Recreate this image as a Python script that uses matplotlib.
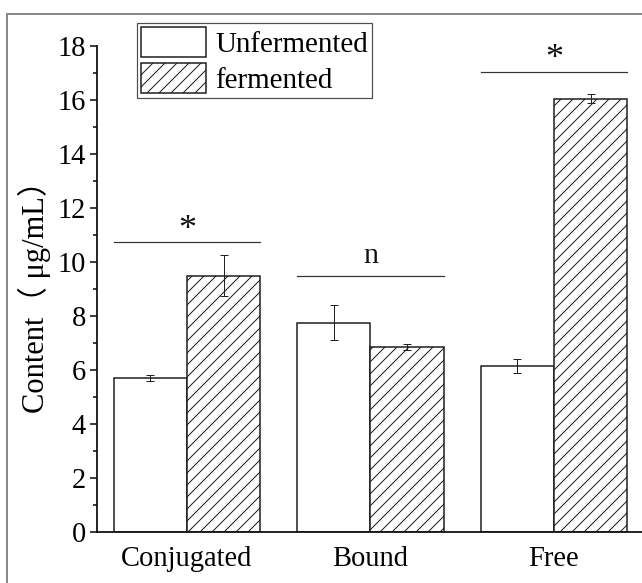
import numpy as np
import matplotlib
matplotlib.use("Agg")
import matplotlib.pyplot as plt
from matplotlib.lines import Line2D
from matplotlib.patches import Patch

plt.rcParams['font.family'] = ['Liberation Serif', 'Noto Sans CJK SC', 'DejaVu Sans']
plt.rcParams['hatch.linewidth'] = 1.0

categories = ['Conjugated', 'Bound', 'Free']
series_names = ['Unfermented', 'fermented']
unfermented = [5.70, 7.75, 6.15]
unfermented_err = [0.12, 0.65, 0.25]
fermented = [9.50, 6.85, 16.05]
fermented_err = [0.75, 0.12, 0.16]
sig_labels = ['*', 'n', '*']
sig_levels = [10.75, 9.5, 17.05]
y_ticks = [0, 2, 4, 6, 8, 10, 12, 14, 16, 18]

W, H, DPI = 642, 583, 72
fig = plt.figure(figsize=(W / DPI, H / DPI), dpi=DPI)
ax = fig.add_axes([97 / W, 51 / H, (W - 97) / W, 486 / H])

x = np.arange(1, len(categories) + 1)
bw = 0.4
edge = '#1a1a1a'
err_style = dict(ecolor='#222222', elinewidth=1.0, capsize=4, capthick=1.0)
ax.bar(x - bw / 2, unfermented, bw, color='white', edgecolor=edge, linewidth=1.5,
       yerr=unfermented_err, error_kw=err_style, zorder=2)
ax.bar(x + bw / 2, fermented, bw, color='white', edgecolor=edge, linewidth=1.5, hatch='//',
       yerr=fermented_err, error_kw=err_style, zorder=2)

# significance marks above each group
for xi, lab, lev in zip(x, sig_labels, sig_levels):
    ax.plot([xi - bw, xi + bw], [lev, lev], color='#333333', lw=1.2, zorder=3)
    if lab == '*':
        ax.text(xi, lev + 0.12, lab, ha='center', va='baseline', fontsize=36, color='#111111')
    else:
        ax.text(xi, lev + 0.48, lab, ha='center', va='baseline', fontsize=30, color='#111111')

ax.set_xlim(0.5095, 3.48)
ax.set_ylim(0, 18)
ax.set_yticks(y_ticks)
ax.set_yticks(np.arange(1, 18, 2), minor=True)
ax.set_xticks(x)
ax.set_xticklabels(categories, fontsize=28.5)
ax.tick_params(axis='y', which='major', direction='out', length=7, width=1.5, labelsize=28.5, pad=4)
ax.tick_params(axis='y', which='minor', direction='out', length=4, width=1.5)
ax.tick_params(axis='x', length=0, pad=14)
for s in ['top', 'right']:
    ax.spines[s].set_visible(False)
for s in ['left', 'bottom']:
    ax.spines[s].set_linewidth(1.8)
    ax.spines[s].set_color('#111111')

ax.set_ylabel('Content（ μg/mL）', fontsize=30.5, labelpad=6)

handles = [Patch(facecolor='white', edgecolor=edge, linewidth=1.5),
           Patch(facecolor='white', edgecolor=edge, linewidth=1.5, hatch='//')]
leg = fig.legend(handles, series_names, loc='upper left',
                 bbox_to_anchor=(137 / W, 1 - 23 / H), bbox_transform=fig.transFigure,
                 fontsize=29, frameon=True, fancybox=False, borderaxespad=0,
                 handlelength=2.24, handleheight=1.2, handletextpad=0.3,
                 labelspacing=0.17, borderpad=0.15)
leg.get_frame().set_edgecolor('#222222')
leg.get_frame().set_linewidth(1.2)

# outer frame around the figure
fig.add_artist(Line2D([7 / W, 7 / W], [0, 1 - 14 / H], transform=fig.transFigure,
                      color='#888888', lw=2))
fig.add_artist(Line2D([7 / W, 1], [1 - 14 / H, 1 - 14 / H], transform=fig.transFigure,
                      color='#888888', lw=2))

fig.savefig('out.png', dpi=DPI)
